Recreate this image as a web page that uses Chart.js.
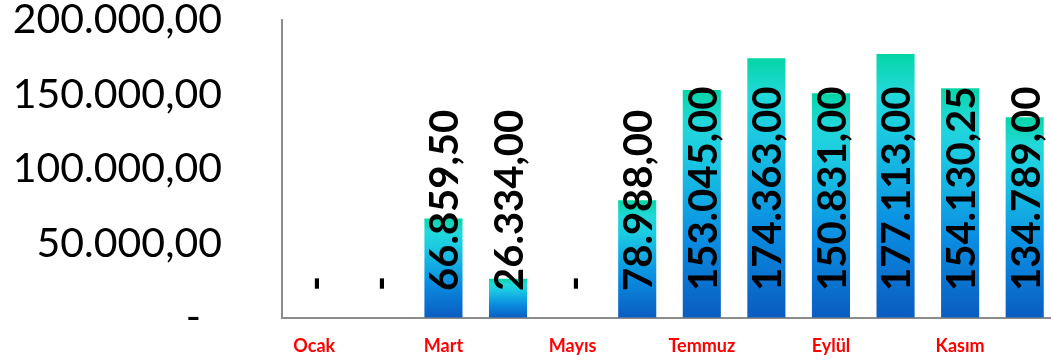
<!DOCTYPE html>
<html>
<head>
<meta charset="utf-8">
<script src="https://cdn.jsdelivr.net/npm/chart.js@4/dist/chart.umd.min.js"></script>
<style>
  html, body { margin: 0; padding: 0; background: #fff; overflow: hidden; width: 1051px; height: 363px; }
</style>
</head>
<body>
<canvas id="barChart" width="1057" height="363"></canvas>
<script>
// months and monthly totals
const months = ["Ocak", "Şubat", "Mart", "Nisan", "Mayıs", "Haziran", "Temmuz", "Ağustos", "Eylül", "Ekim", "Kasım", "Aralık"]
const totals = [0, 0, 66859.50, 26334.00, 0, 78988.00, 153045.00, 174363.00, 150831.00, 177113.00, 154130.25, 134789.00]
const yTicks = [0, 50000, 100000, 150000, 200000]

// 1234567.5 -> "1.234.567,50"
function trMoney(v){
  if (v === 0) return "-"
  let parts = v.toFixed(2).split(".")
  let intPart = parts[0].replace(/\B(?=(\d{3})+(?!\d))/g, ".")
  return intPart + "," + parts[1]
}

function barFill(ctx){
  const chart = ctx.chart
  if (!chart.chartArea) return "#0a8fe0"
  const y = chart.scales.y
  const base = y.getPixelForValue(0)
  const top = y.getPixelForValue(ctx.raw)
  if (Math.abs(base - top) < 1) return "#0a8fe0"
  const g = chart.ctx.createLinearGradient(0, base, 0, top)
  g.addColorStop(0, "#0a5cc0")
  g.addColorStop(0.35, "#0a8ee2")
  g.addColorStop(0.72, "#1ccbe2")
  g.addColorStop(0.86, "#22d8da")
  g.addColorStop(1, "#04d6a6")
  return g
}

// vertical value labels sitting at the bar base
const valueLabels = {
  id: "valueLabels",
  afterDatasetsDraw(chart){
    const ctx = chart.ctx
    const meta = chart.getDatasetMeta(0)
    const base = chart.scales.y.getPixelForValue(0)
    ctx.save()
    ctx.fillStyle = "#000"
    ctx.font = "bold 40px Lato"
    ctx.textAlign = "left"
    ctx.textBaseline = "middle"
    meta.data.forEach((bar, i) => {
      ctx.save()
      ctx.translate(bar.x + 2, base - 27)
      ctx.rotate(-Math.PI / 2)
      ctx.fillText(trMoney(totals[i]), 0, 0)
      ctx.restore()
    })
    ctx.restore()
  }
}

var ctxB = document.getElementById("barChart").getContext("2d")
var myBarChart = new Chart(ctxB, {
  type: "bar",
  data: {
    labels: months,
    datasets: [
      {
        data: totals,
        backgroundColor: barFill,
        borderWidth: 0,
        categoryPercentage: 1,
        barPercentage: 0.59
      }
    ]
  },
  options: {
    responsive: false,
    animation: false,
    layout: { padding: 0 },
    plugins: {
      legend: { display: false },
      tooltip: { enabled: false }
    },
    scales: {
      x: {
        grid: { display: true, color: "transparent", drawTicks: true, tickLength: 17, tickColor: "transparent" },
        border: { display: true, color: "#8c8c8c", width: 2 },
        afterFit: function(scale){ scale.height = 45 },
        ticks: {
          autoSkip: false,
          maxRotation: 0,
          padding: 0,
          color: "#ff0000",
          font: { family: "Lato", size: 18, weight: "bold" },
          callback: function(value, index){ return index % 2 === 0 ? months[index] : "" }
        }
      },
      y: {
        min: 0,
        max: 200000,
        afterFit: function(scale){
          scale.width = 282
          scale.paddingTop = 20
        },
        afterBuildTicks: function(scale){ scale.ticks = yTicks.map(v => ({ value: v })) },
        grid: { display: true, color: "transparent", drawTicks: true, tickLength: 56, tickColor: "transparent" },
        border: { display: true, color: "#8c8c8c", width: 2 },
        ticks: {
          padding: 4,
          color: "#000",
          font: { family: "Lato", size: 41 },
          callback: function(value){ return value === 0 ? "-  " : trMoney(value) }
        }
      }
    }
  },
  plugins: [valueLabels]
})
</script>
</body>
</html>
